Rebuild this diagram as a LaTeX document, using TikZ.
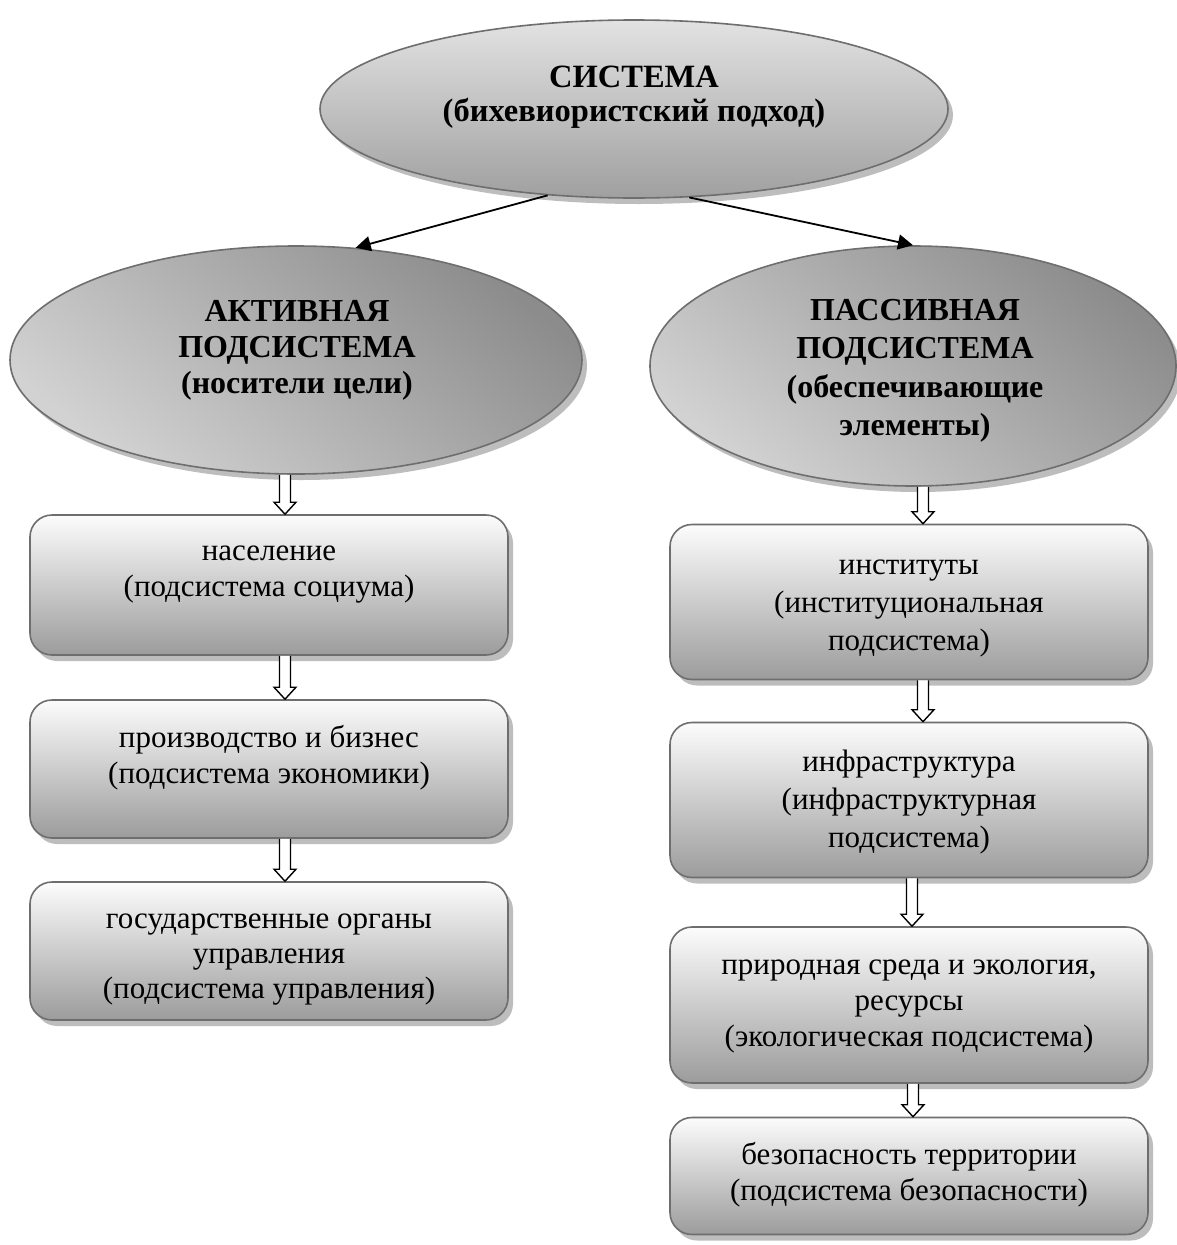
\documentclass[tikz,border=0pt]{standalone}
\usepackage{fontspec}
\setmainfont{Liberation Serif}
\usetikzlibrary{shapes.geometric,shadows,arrows.meta,calc}
\definecolor{edgegray}{HTML}{6E6E6E}
\definecolor{shadowgray}{HTML}{BDBDBD}
\definecolor{boxtop}{HTML}{FCFCFC}
\definecolor{boxmid}{HTML}{D4D4D4}
\definecolor{boxbot}{HTML}{9C9C9C}
\definecolor{elldark}{HTML}{8C8C8C}
\definecolor{ellmid}{HTML}{C6C6C6}
\definecolor{elllight}{HTML}{D2D2D2}
\definecolor{topell}{HTML}{E2E2E2}
\definecolor{topellbot}{HTML}{A0A0A0}
\tikzset{
  shade/.style={drop shadow={shadow xshift=5pt,shadow yshift=-6pt,fill=shadowgray,opacity=1}},
  ellnode/.style={ellipse,draw=edgegray,line width=1.6pt,inner sep=0pt,shade},
  sideell/.style={ellnode,top color=elldark,middle color=ellmid,bottom color=elllight,shading angle=-40},
  topellnode/.style={ellnode,top color=topell,middle color=ellmid!80!white,bottom color=topellbot},
  boxnode/.style={rectangle,rounded corners=22pt,draw=edgegray,line width=1.6pt,
    minimum width=478pt,inner sep=0pt,top color=boxtop,middle color=boxmid,bottom color=boxbot,shade},
  txt/.style={align=center,inner sep=0pt,font=\fontsize{31}{36}\selectfont},
  btxt/.style={align=center,inner sep=0pt,font=\bfseries\fontsize{32}{35}\selectfont},
  linkarrow/.style={line width=1.8pt,-{Triangle[length=15pt,width=15pt]}},
  hollow/.style={draw=black,line width=1.4pt,fill=white,line join=miter},
}
\newcommand\hollowarrow[3]{%
  \draw[hollow] let \p1=(#1.south), \p2=(#2.north) in
    (#3pt-5.5pt,\y1) -- (#3pt-5.5pt,\y2+12pt) -- (#3pt-11pt,\y2+12pt) -- (#3pt,\y2)
    -- (#3pt+11pt,\y2+12pt) -- (#3pt+5.5pt,\y2+12pt) -- (#3pt+5.5pt,\y1);
}
\begin{document}
\begin{tikzpicture}[x=1pt,y=1pt]
\useasboundingbox (0,0) rectangle (1176,-1245);
\fill[white] (0,0) rectangle (1176,-1245);

% ellipses
\node[topellnode,minimum width=628pt,minimum height=178pt] (sys) at (634,-109) {};
\node[btxt,font=\bfseries\fontsize{32.5}{34}\selectfont] (systxt) at (634,-97) {СИСТЕМА\\(бихевиористский подход)};

\node[sideell,minimum width=572pt,minimum height=228pt] (act) at (296,-360) {};
\node[btxt,font=\bfseries\fontsize{32}{36}\selectfont] (acttxt) at (297,-350) {АКТИВНАЯ\\ПОДСИСТЕМА\\(носители цели)};

\node[sideell,minimum width=526pt,minimum height=240pt] (pas) at (913,-366) {};
\node[btxt,font=\bfseries\fontsize{32}{38.5}\selectfont] (pastxt) at (915,-371) {ПАССИВНАЯ\\ПОДСИСТЕМА\\(обеспечивающие\\элементы)};

\draw[linkarrow] (sys.225) -- (act.62);
\draw[linkarrow] (sys.302) -- (pas.north);

% left boxes
\node[boxnode,minimum height=140pt] (l1) at (269,-585) {};
\node[txt] (l1t) at (269,-575) {население\\(подсистема социума)};
\node[boxnode,minimum height=138pt] (l2) at (269,-769) {};
\node[txt] (l2t) at (269,-758) {производство и бизнес\\(подсистема экономики)};
\node[boxnode,minimum height=138pt] (l3) at (269,-951) {};
\node[txt,font=\fontsize{31}{35}\selectfont] (l3t) at (269,-960) {государственные органы\\управления\\(подсистема управления)};

% right boxes
\node[boxnode,minimum height=155pt] (r1) at (909,-602) {};
\node[txt,font=\fontsize{31}{38}\selectfont] (r1t) at (909,-608) {институты\\(институциональная\\подсистема)};
\node[boxnode,minimum height=155pt] (r2) at (909,-800) {};
\node[txt,font=\fontsize{31}{38}\selectfont] (r2t) at (909,-802) {инфраструктура\\(инфраструктурная\\подсистема)};
\node[boxnode,minimum height=156pt] (r3) at (909,-1005) {};
\node[txt] (r3t) at (909,-1006) {природная среда и экология,\\ресурсы\\(экологическая подсистема)};
\node[boxnode,minimum height=117pt] (r4) at (909,-1176) {};
\node[txt] (r4t) at (909,-1175) {безопасность территории\\(подсистема безопасности)};

% hollow arrows
\hollowarrow{act}{l1}{285}
\hollowarrow{l1}{l2}{285}
\hollowarrow{l2}{l3}{285}
\hollowarrow{pas}{r1}{923}
\hollowarrow{r1}{r2}{923}
\hollowarrow{r2}{r3}{912}
\hollowarrow{r3}{r4}{913}
\end{tikzpicture}
\end{document}
